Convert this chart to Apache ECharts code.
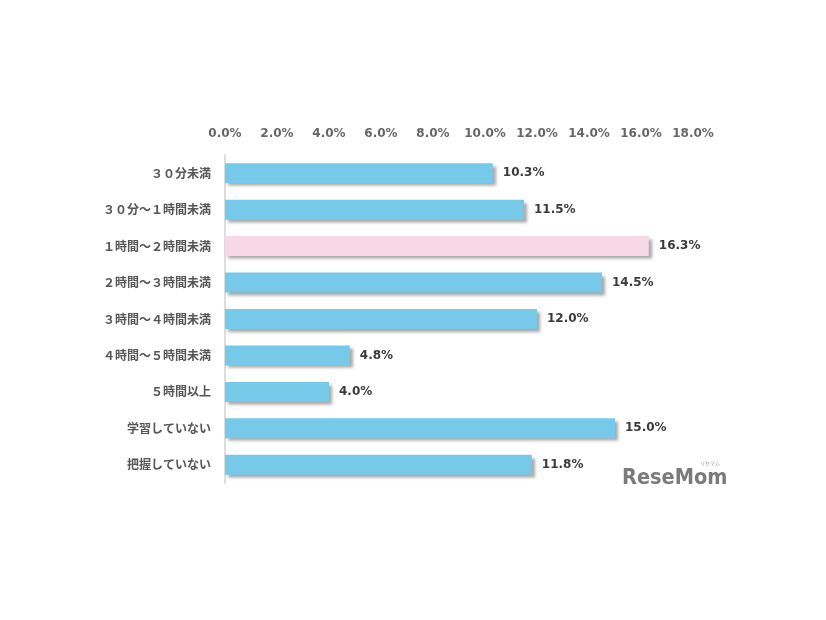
<!DOCTYPE html>
<html><head><meta charset="utf-8">
<script src="https://cdn.jsdelivr.net/npm/echarts@6/dist/echarts.min.js"></script>
<style>html,body{margin:0;padding:0;background:#fff}#c{width:826px;height:620px}</style>
</head><body><div id="c"></div>
<script>
const categories = ['３０分未満','３０分～１時間未満','１時間～２時間未満','２時間～３時間未満','３時間～４時間未満','４時間～５時間未満','５時間以上','学習していない','把握していない'];
const values = [10.3, 11.5, 16.3, 14.5, 12.0, 4.8, 4.0, 15.0, 11.8];
const highlightIndex = 2;
const blue = '#77C9EA', pink = '#F8D7E6';
const chart = echarts.init(document.getElementById('c'));
chart.setOption({
  animation: false,
  grid: {left: 225, right: 133, top: 155, bottom: 137},
  xAxis: {
    type: 'value', position: 'top', min: 0, max: 18, interval: 2,
    axisLine: {show: false}, axisTick: {show: false}, splitLine: {show: false},
    axisLabel: {formatter: v => v.toFixed(1) + '%', color: '#666', fontWeight: 'bold', fontSize: 12, fontFamily: 'DejaVu Sans', margin: 15}
  },
  yAxis: {
    type: 'category', data: categories, inverse: true,
    axisLine: {show: true, lineStyle: {color: '#ddd', width: 2}}, axisTick: {show: false},
    axisLabel: {color: '#555', fontWeight: 'bold', fontSize: 12, fontFamily: 'Noto Sans CJK JP', margin: 14}
  },
  series: [{
    type: 'bar', barWidth: 20,
    data: values.map((v, i) => ({value: v, itemStyle: {color: i === highlightIndex ? pink : blue}})),
    itemStyle: {shadowColor: 'rgba(0,0,0,0.35)', shadowBlur: 3, shadowOffsetX: 3, shadowOffsetY: 3},
    label: {show: true, position: 'right', distance: 10, formatter: p => p.value.toFixed(1) + '%', color: '#3a3a3a', fontWeight: 'bold', fontSize: 12, fontFamily: 'DejaVu Sans'}
  }],
  graphic: [
    {type: 'text', x: 622, y: 467, scaleX: 0.88, style: {text: 'ReseMom', fill: '#7a7a7a', font: 'bold 22px "DejaVu Sans", sans-serif'}},
    {type: 'text', x: 700, y: 461, style: {text: 'リセマム', fill: '#999', font: '5px "Noto Sans CJK JP"'}}
  ]
});
</script></body></html>
